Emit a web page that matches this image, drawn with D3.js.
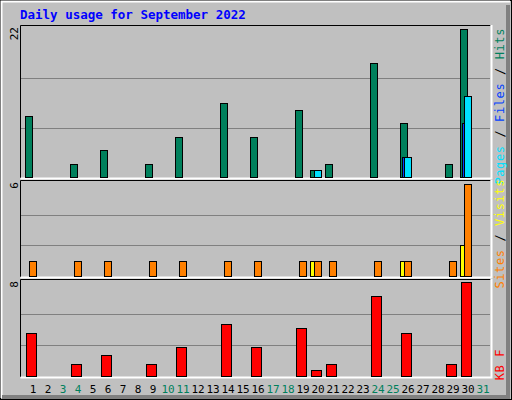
<!DOCTYPE html>
<html><head><meta charset="utf-8">
<script src="https://cdn.jsdelivr.net/npm/d3@7"></script>
<style>body{margin:0;background:#fff}text{font-family:"DejaVu Sans Mono",monospace}</style>
</head><body><svg id="c" width="512" height="400"></svg>
<script>
const days = d3.range(1, 32);
const weekendDays = [3,4,10,11,17,18,24,25,31];
const hits  = [9,0,0,2,0,4,0,0,2,0,6,0,0,11,0,6,0,0,10,1,2,0,0,17,0,8,0,0,2,22,0];
const files = [0,0,0,0,0,0,0,0,0,0,0,0,0,0,0,0,0,0,0,1,0,0,0,0,0,3,0,0,0,12,0];
const pages = [0,0,0,0,0,0,0,0,0,0,0,0,0,0,0,0,0,0,0,0,0,0,0,0,0,3,0,0,0,8,0];
const visits= [0,0,0,0,0,0,0,0,0,0,0,0,0,0,0,0,0,0,0,1,0,0,0,0,0,1,0,0,0,2,0];
const sites = [1,0,0,1,0,1,0,0,1,0,1,0,0,1,0,1,0,0,1,1,1,0,0,1,0,1,0,0,1,6,0];
const kbytes= [3.7,0,0,1,0,1.8,0,0,1,0,2.5,0,0,4.5,0,2.5,0,0,4.1,0.5,1,0,0,6.9,0,3.7,0,0,1,8.1,0];
const maxLabels = ["22","6","8"];

const svg = d3.select("#c");
svg.append("rect").attr("x",0).attr("y",0).attr("width",512).attr("height",400).attr("fill","#c0c0c0");
svg.append("rect").attr("x",0.5).attr("y",0.5).attr("width",511).attr("height",399).attr("fill","none").attr("stroke","#000");
svg.append("path").attr("d","M1.5,398V1.5H510").attr("stroke","#fff").attr("fill","none").attr("stroke-width",2);
svg.append("path").attr("d","M2,397H508V5").attr("stroke","#808080").attr("fill","none").attr("stroke-width",4);
svg.append("text").attr("x",20).attr("y",19).attr("fill","#0000ff").attr("font-weight","bold").attr("font-size",12.5).text("Daily usage for September 2022");

const x = d3.scaleBand().domain(days).range([25, 490]).paddingInner(0).paddingOuter(0);
const panels = [
  {top:25, bot:178, max:22},
  {top:180, bot:277, max:6},
  {top:279, bot:377, max:8}
];
panels.forEach((p,i)=>{
  const g = svg.append("g");
  g.append("rect").attr("x",20).attr("y",p.top).attr("width",471).attr("height",p.bot-p.top).attr("fill","#c0c0c0");
  p.y = d3.scaleLinear().domain([0,p.max]).range([p.bot-1, p.top+4]);
  [1/3,2/3].forEach(f=>g.append("line").attr("x1",21).attr("x2",490).attr("y1",Math.round(p.y(p.max*f))+0.5).attr("y2",Math.round(p.y(p.max*f))+0.5).attr("stroke","#808080"));
  g.append("path").attr("d",`M20.5,${p.bot}V${p.top+0.5}H490.5`).attr("stroke","#000").attr("fill","none");
  g.append("path").attr("d",`M20.5,${p.bot+0.5}H491.5V${p.top}`).attr("stroke","#fff").attr("fill","none").attr("stroke-width",2);
  g.append("text").attr("transform",`translate(18,${p.top+2}) rotate(-90)`).attr("font-size",11).attr("fill","#000").attr("text-anchor","end").text(maxLabels[i]);
});
function bars(data, panel, off, w, color){
  const p = panels[panel];
  svg.append("g").selectAll("rect").data(days.filter((d,i)=>data[i]>0)).join("rect")
    .attr("x",d=>x(d)+off+0.5).attr("width",w)
    .attr("y",d=>Math.round(p.y(data[d-1]))+0.5)
    .attr("height",d=>p.y(0)-Math.round(p.y(data[d-1])))
    .attr("fill",color).attr("stroke","#000");
}
bars(hits,0,0,7,"#00805c");
bars(pages,0,2,2,"#0040ff");
bars(files,0,4,7,"#00e0ff");
bars(visits,1,0,7,"#ffff00");
bars(sites,1,4,7,"#ff8000");
bars(kbytes,2,1,10,"#ff0000");

svg.append("g").selectAll("text").data(days).join("text")
  .attr("x",d=>x(d)+8).attr("y",393).attr("text-anchor","middle").attr("font-size",11)
  .attr("fill",d=>weekendDays.includes(d)?"#00805c":"#000").text(d=>d);

function sideLabel(top, parts){
  const t = svg.append("text").attr("transform",`translate(504,${top}) rotate(-90)`).attr("text-anchor","end").attr("font-size",12).attr("letter-spacing",0.6);
  parts.forEach(([s,c])=>t.append("tspan").attr("fill",c).text(s));
}
sideLabel(28,[["Pages","#00e0ff"],[" / ","#000"],["Files","#0040ff"],[" / ","#000"],["Hits","#00805c"]]);
sideLabel(179,[["Sites","#ff8000"],[" / ","#000"],["Visits","#ffff00"]]);
sideLabel(349,[["KB F","#ff0000"]]);
</script></body></html>
